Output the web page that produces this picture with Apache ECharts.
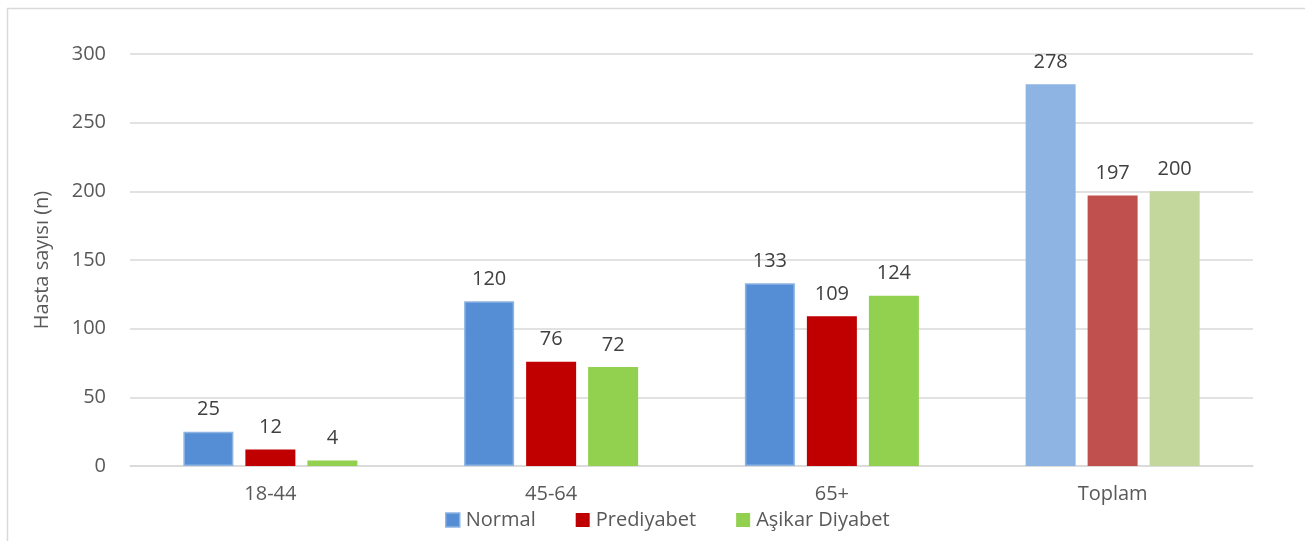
<!DOCTYPE html>
<html>
<head>
<meta charset="utf-8">
<script src="https://cdn.jsdelivr.net/npm/echarts@6/dist/echarts.min.js"></script>
<style>
  html, body { margin: 0; padding: 0; background: #fff; }
  #chart { width: 1305px; height: 541px; }
</style>
</head>
<body>
<div id="chart"></div>
<script>
// Hasta sayıları, yaş grubuna ve glisemik duruma göre
const categories = ['18-44', '45-64', '65+', 'Toplam'];
const seriesNames = ['Normal', 'Prediyabet', 'Aşikar Diyabet'];
const normalValues = [25, 120, 133, 278];
const prediyabetValues = [12, 76, 109, 197];
const asikarValues = [4, 72, 124, 200];
const yTicks = [0, 50, 100, 150, 200, 250, 300];

// Base colours per series and lighter tones for the "Toplam" group
const baseColors = ['#558ED5', '#C00000', '#92D050'];
const totalColors = ['#8EB4E3', '#C0504D', '#C3D69B'];

const FONT = '"Open Sans", "Noto Sans", sans-serif';
const FS = 20;
const allValues = [normalValues, prediyabetValues, asikarValues];

const series = seriesNames.map((name, s) => ({
  name,
  type: 'bar',
  barWidth: 50,
  barGap: '24%',
  itemStyle: {
    color: baseColors[s],
    borderColor: s === 0 ? '#8DB3E2' : baseColors[s],
    borderWidth: s === 0 ? 1.5 : 0
  },
  label: {
    show: true,
    position: 'top',
    distance: 12,
    color: '#404040',
    fontSize: FS,
    fontFamily: FONT
  },
  data: allValues[s].map((v, i) => i === categories.length - 1
    ? { value: v, itemStyle: { color: totalColors[s], borderWidth: 0 } }
    : v)
}));

const chart = echarts.init(document.getElementById('chart'), null, { renderer: 'canvas' });
chart.setOption({
  animation: false,
  backgroundColor: '#fff',
  graphic: [{
    type: 'rect',
    left: 5, top: 6,
    shape: { width: 1320, height: 560 },
    style: { fill: 'none', stroke: '#D9D9D9', lineWidth: 1.5 },
    silent: true
  }],
  grid: { left: 130, right: 52, top: 54, bottom: 75 },
  legend: {
    bottom: 6,
    left: 440,
    itemWidth: 14,
    itemHeight: 14,
    itemGap: 40,
    icon: 'rect',
    textStyle: { color: '#595959', fontSize: FS, fontFamily: FONT, padding: [0, 0, 0, 1] },
    data: seriesNames.map((n, s) => ({ name: n, itemStyle: { color: baseColors[s], borderWidth: s === 0 ? 1.5 : 0, borderColor: '#8DB3E2' } }))
  },
  xAxis: {
    type: 'category',
    data: categories,
    axisLine: { lineStyle: { color: '#D9D9D9', width: 1.5 } },
    axisTick: { show: false },
    axisLabel: { color: '#595959', fontSize: FS, fontFamily: FONT, margin: 18 }
  },
  yAxis: {
    type: 'value',
    min: yTicks[0],
    max: yTicks[yTicks.length - 1],
    interval: 50,
    name: 'Hasta sayısı (n)',
    nameLocation: 'middle',
    nameGap: 78,
    nameRotate: 90,
    nameTextStyle: { color: '#595959', fontSize: FS, fontFamily: FONT },
    axisLine: { show: false },
    axisTick: { show: false },
    axisLabel: { color: '#595959', fontSize: FS, fontFamily: FONT, margin: 24 },
    splitLine: { lineStyle: { color: '#D9D9D9', width: 1.5 } }
  },
  series
});
</script>
</body>
</html>
